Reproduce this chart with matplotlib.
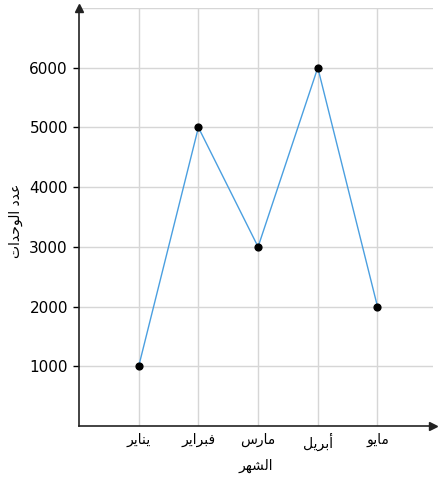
import matplotlib
matplotlib.use("Agg")
import matplotlib.pyplot as plt

months = ["يناير", "فبراير", "مارس", "أبريل", "مايو"]
units = [1000, 5000, 3000, 6000, 2000]
y_ticks = [1000, 2000, 3000, 4000, 5000, 6000]
x_title = "الشهر"
y_title = "عدد الوحدات"

# matplotlib has no Arabic shaping, so map letters to their joined forms
# (isolated, final, initial, medial) and flip the order for display
FORMS = {
    "ا": ("\uFE8D", "\uFE8E", None, None),
    "أ": ("\uFE83", "\uFE84", None, None),
    "ب": ("\uFE8F", "\uFE90", "\uFE91", "\uFE92"),
    "ت": ("\uFE95", "\uFE96", "\uFE97", "\uFE98"),
    "ح": ("\uFEA1", "\uFEA2", "\uFEA3", "\uFEA4"),
    "د": ("\uFEA9", "\uFEAA", None, None),
    "ر": ("\uFEAD", "\uFEAE", None, None),
    "س": ("\uFEB1", "\uFEB2", "\uFEB3", "\uFEB4"),
    "ش": ("\uFEB5", "\uFEB6", "\uFEB7", "\uFEB8"),
    "ع": ("\uFEC9", "\uFECA", "\uFECB", "\uFECC"),
    "ف": ("\uFED1", "\uFED2", "\uFED3", "\uFED4"),
    "ل": ("\uFEDD", "\uFEDE", "\uFEDF", "\uFEE0"),
    "م": ("\uFEE1", "\uFEE2", "\uFEE3", "\uFEE4"),
    "ن": ("\uFEE5", "\uFEE6", "\uFEE7", "\uFEE8"),
    "ه": ("\uFEE9", "\uFEEA", "\uFEEB", "\uFEEC"),
    "و": ("\uFEED", "\uFEEE", None, None),
    "ي": ("\uFEF1", "\uFEF2", "\uFEF3", "\uFEF4"),
}


def shape(text):
    out = []
    for i, ch in enumerate(text):
        if ch not in FORMS:
            out.append(ch)
            continue
        prev = text[i - 1] if i > 0 else None
        nxt = text[i + 1] if i + 1 < len(text) else None
        join_prev = prev in FORMS and FORMS[prev][2] is not None
        join_next = FORMS[ch][2] is not None and nxt in FORMS
        iso, fin, ini, med = FORMS[ch]
        if join_prev and join_next:
            out.append(med)
        elif join_prev:
            out.append(fin)
        elif join_next:
            out.append(ini)
        else:
            out.append(iso)
    return "".join(reversed(out))


plt.rcParams['font.family'] = ['DejaVu Sans']

fig = plt.figure(figsize=(4.43, 4.79), dpi=100)
ax = fig.add_axes([79 / 443, 53 / 479, 354 / 443, 418 / 479])

x = list(range(1, len(months) + 1))
ax.plot(x, units, color='#4a9fe0', linewidth=1, zorder=3)
ax.scatter(x, units, color='black', s=24, zorder=4)

ax.set_xlim(0, 5.93)
ax.set_ylim(0, 7000)
ax.set_xticks(x)
ax.set_xticklabels([shape(m) for m in months], fontsize=10)
ax.set_yticks(y_ticks)
ax.set_yticklabels([str(v) for v in y_ticks], fontsize=11)
ax.set_yticks([7000], minor=True)
ax.tick_params(axis='x', length=0, pad=5)
ax.tick_params(axis='y', length=4, width=1, pad=4)
ax.tick_params(axis='y', which='minor', length=0)

ax.grid(True, which='both', color='#d6d6d6', linewidth=1)
ax.set_axisbelow(True)

for side in ['top', 'right']:
    ax.spines[side].set_visible(False)
for side in ['left', 'bottom']:
    ax.spines[side].set_color('#222222')
    ax.spines[side].set_linewidth(1.2)

# arrow heads at the ends of the axes
ax.plot(0, 1.0, marker='^', color='#222222', markersize=6, transform=ax.transAxes, clip_on=False)
ax.plot(1.0, 0, marker='>', color='#222222', markersize=6, transform=ax.transAxes, clip_on=False)

ax.set_xlabel(shape(x_title), fontsize=10, va='center')
ax.set_ylabel(shape(y_title), fontsize=10, va='center')
ax.xaxis.set_label_coords(0.5, -40 / 418)
ax.yaxis.set_label_coords(-63 / 354, 0.49)

fig.savefig("out.png", dpi=100)
